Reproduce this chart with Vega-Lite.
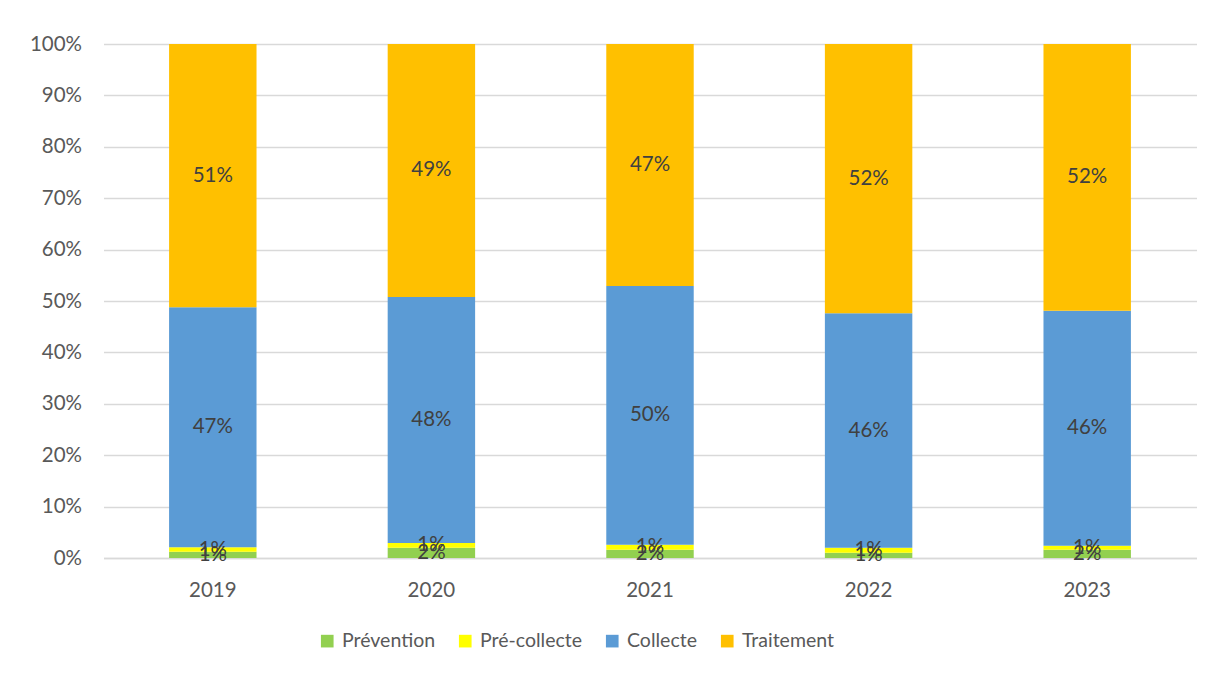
{
  "$schema": "https://vega.github.io/schema/vega-lite/v6.json",
  "width": 1093,
  "height": 514,
  "autosize": {"type": "none"},
  "padding": {"left": 103.5, "top": 44, "right": 14.5, "bottom": 115},
  "background": "white",
  "config": {
    "view": {"stroke": null},
    "font": "Lato",
    "axis": {"labelFont": "Lato", "labelColor": "#595959", "labelFontSize": 20.5, "gridColor": "#d9d9d9", "gridWidth": 1.3},
    "legend": {"labelFont": "Lato", "labelColor": "#595959", "labelFontSize": 19.5}
  },
  "data": {
    "values": [
      {"year": "2019", "cat": "Prévention", "o": 1, "v": 0.012},
      {"year": "2019", "cat": "Pré-collecte", "o": 2, "v": 0.009},
      {"year": "2019", "cat": "Collecte", "o": 3, "v": 0.467},
      {"year": "2019", "cat": "Traitement", "o": 4, "v": 0.512},
      {"year": "2020", "cat": "Prévention", "o": 1, "v": 0.020},
      {"year": "2020", "cat": "Pré-collecte", "o": 2, "v": 0.009},
      {"year": "2020", "cat": "Collecte", "o": 3, "v": 0.479},
      {"year": "2020", "cat": "Traitement", "o": 4, "v": 0.492},
      {"year": "2021", "cat": "Prévention", "o": 1, "v": 0.016},
      {"year": "2021", "cat": "Pré-collecte", "o": 2, "v": 0.010},
      {"year": "2021", "cat": "Collecte", "o": 3, "v": 0.503},
      {"year": "2021", "cat": "Traitement", "o": 4, "v": 0.471},
      {"year": "2022", "cat": "Prévention", "o": 1, "v": 0.010},
      {"year": "2022", "cat": "Pré-collecte", "o": 2, "v": 0.010},
      {"year": "2022", "cat": "Collecte", "o": 3, "v": 0.456},
      {"year": "2022", "cat": "Traitement", "o": 4, "v": 0.524},
      {"year": "2023", "cat": "Prévention", "o": 1, "v": 0.016},
      {"year": "2023", "cat": "Pré-collecte", "o": 2, "v": 0.008},
      {"year": "2023", "cat": "Collecte", "o": 3, "v": 0.457},
      {"year": "2023", "cat": "Traitement", "o": 4, "v": 0.519}
    ]
  },
  "transform": [
    {"stack": "v", "groupby": ["year"], "sort": [{"field": "o"}], "as": ["v0", "v1"]},
    {"calculate": "(datum.v0 + datum.v1) / 2", "as": "mid"}
  ],
  "encoding": {
    "x": {
      "field": "year", "type": "nominal", "title": null,
      "scale": {"paddingInner": 0.6, "paddingOuter": 0.3},
      "axis": {"labelAngle": 0, "ticks": false, "domainColor": "#d9d9d9", "domainWidth": 1.3, "labelPadding": 22}
    }
  },
  "layer": [
    {
      "mark": {"type": "bar"},
      "encoding": {
        "y": {
          "field": "v0", "type": "quantitative", "title": null,
          "scale": {"domain": [0, 1], "nice": false},
          "axis": {"format": ".0%", "values": [0,0.1,0.2,0.3,0.4,0.5,0.6,0.7,0.8,0.9,1], "labelOverlap": false, "domain": false, "ticks": false, "labelPadding": 22}
        },
        "y2": {"field": "v1"},
        "color": {
          "field": "cat", "type": "nominal", "title": null,
          "scale": {"domain": ["Prévention", "Pré-collecte", "Collecte", "Traitement"], "range": ["#92d050", "#ffff00", "#5b9bd5", "#ffc000"]},
          "legend": {"orient": "none", "legendX": 214, "legendY": 587, "direction": "horizontal", "symbolType": "square", "symbolSize": 160, "symbolStrokeWidth": 0, "columnPadding": 20, "labelOffset": 5}
        },
        "order": {"field": "o"}
      }
    },
    {
      "mark": {"type": "text", "fontSize": 20.5, "color": "#404040", "font": "Lato"},
      "encoding": {
        "y": {
          "field": "mid", "type": "quantitative", "title": null,
          "scale": {"domain": [0, 1], "nice": false},
          "axis": {"format": ".0%", "values": [0,0.1,0.2,0.3,0.4,0.5,0.6,0.7,0.8,0.9,1], "labelOverlap": false, "domain": false, "ticks": false, "labelPadding": 22}
        },
        "text": {"field": "v", "type": "quantitative", "format": ".0%"}
      }
    }
  ]
}
